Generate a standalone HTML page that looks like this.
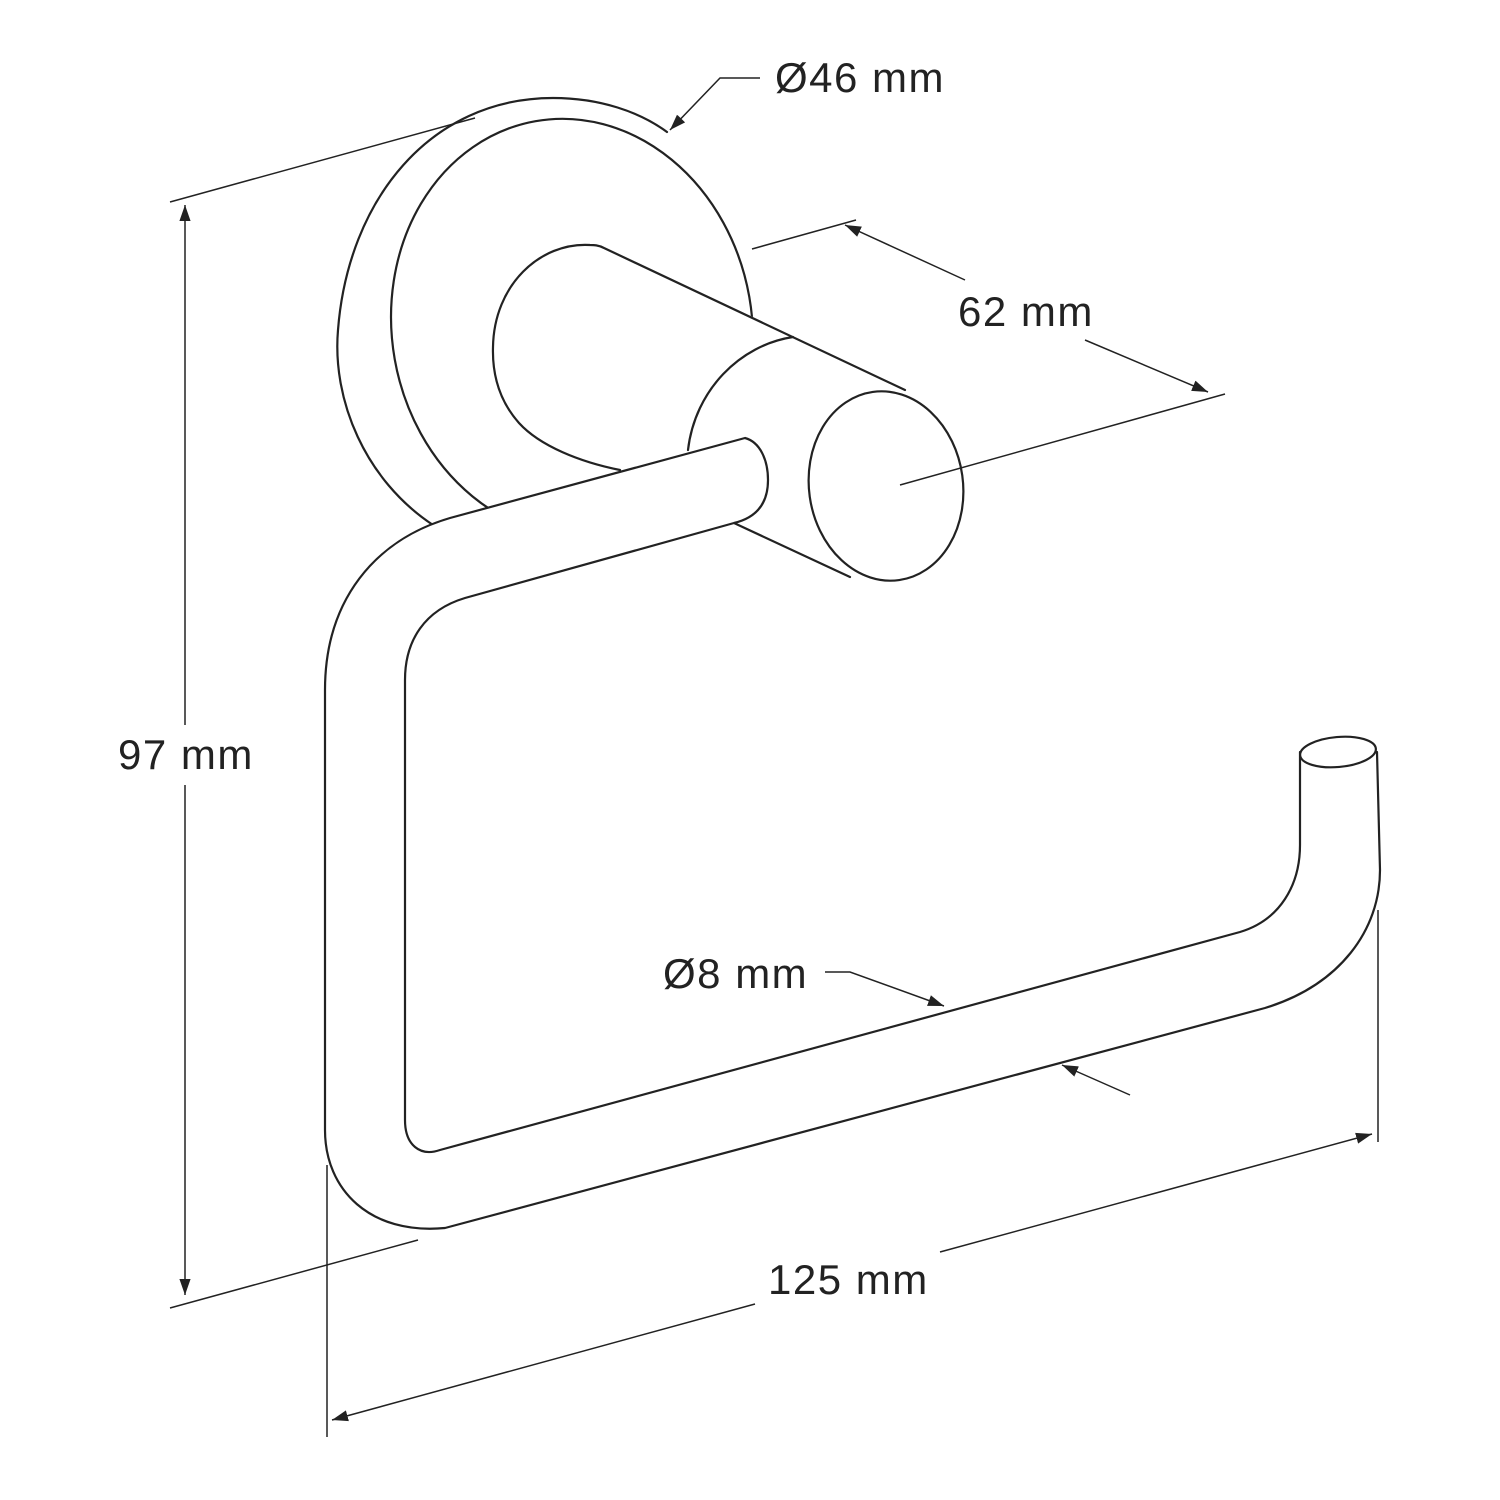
<!DOCTYPE html>
<html><head><meta charset="utf-8"><style>
html,body{margin:0;padding:0;background:#fff}
svg{display:block}
text{font-family:"Liberation Sans",sans-serif;font-size:42px;letter-spacing:1.5px;fill:#222}
</style></head><body>
<svg width="1500" height="1500" viewBox="0 0 1500 1500" xmlns="http://www.w3.org/2000/svg">
<defs>
<marker id="a" viewBox="0 0 10 10" refX="10" refY="5" markerWidth="16" markerHeight="16" orient="auto-start-reverse" markerUnits="userSpaceOnUse"><path d="M0,1.5 L10,5 L0,8.5 z" fill="#222"/></marker>
</defs>
<g fill="#fff" stroke="#222" stroke-width="2.2" stroke-linecap="round" stroke-linejoin="round">
<path d="M433,525 C365,480 332,400 338,330 C348,200 430,98 553,98 C600,98 640,112 667,132 L650,400 Z" stroke="none"/>
<path d="M433,525 C365,480 332,400 338,330 C348,200 430,98 553,98 C600,98 640,112 667,132" fill="none"/>
<ellipse cx="572" cy="328" rx="180" ry="210" transform="rotate(-10 572 328)"/>
<path d="M590,245 C540,242 494,285 493,347 C492,380 503,405 519,423 C540,446 580,462 620,470 L860,578 L935,420 L915,392 L604,248 Z" stroke="none"/>
<path d="M905,390 L604,248 C598,245 594,245 590,245 C540,242 494,285 493,347 C492,380 503,405 519,423 C540,446 580,462 620,470" fill="none"/>
<path d="M793,337 C740,345 695,390 688,450" fill="none"/>
<path d="M734,523 L850,577" fill="none"/>
<ellipse cx="886" cy="486" rx="77" ry="95" transform="rotate(-8 886 486)"/>
<path d="M745,438 L450,518 C375,540 325,600 325,690 L325,1130 C325,1190 370,1235 445,1228 L1265,1008 C1340,985 1380,930 1380,870 L1377,752 L1300,752 L1300,845 C1300,885 1280,920 1240,932 L440,1150 C420,1157 405,1145 405,1120 L405,680 C405,640 425,610 465,598 L734,523 C755,518 768,505 768,480 C768,460 760,442 745,438 Z"/>
<ellipse cx="1338" cy="752" rx="38" ry="15" transform="rotate(-5 1338 752)"/>
</g>
<g fill="none" stroke="#222" stroke-width="1.5">
<line x1="170" y1="202" x2="475" y2="118"/>
<line x1="170" y1="1308" x2="418" y2="1240"/>
<line x1="185" y1="205" x2="185" y2="725" marker-start="url(#a)"/>
<line x1="185" y1="785" x2="185" y2="1295" marker-end="url(#a)"/>
<line x1="327" y1="1165" x2="327" y2="1437"/>
<line x1="1378" y1="910" x2="1378" y2="1142"/>
<line x1="332" y1="1420" x2="755" y2="1304" marker-start="url(#a)"/>
<line x1="940" y1="1252" x2="1372" y2="1134" marker-end="url(#a)"/>
<line x1="752" y1="249" x2="856" y2="220"/>
<line x1="900" y1="485" x2="1225" y2="394"/>
<line x1="965" y1="280" x2="845" y2="225" marker-end="url(#a)"/>
<line x1="1085" y1="340" x2="1208" y2="392" marker-end="url(#a)"/>
<polyline points="760,78 720,78 670,130" marker-end="url(#a)"/>
<polyline points="825,972 850,972 944,1006" marker-end="url(#a)"/>
<line x1="1130" y1="1095" x2="1062" y2="1065" marker-end="url(#a)"/>
</g>
<text x="775" y="92">Ø46 mm</text>
<text x="958" y="326">62 mm</text>
<text x="118" y="769">97 mm</text>
<text x="663" y="988">Ø8 mm</text>
<text x="768" y="1294">125 mm</text>
</svg>
</body></html>
